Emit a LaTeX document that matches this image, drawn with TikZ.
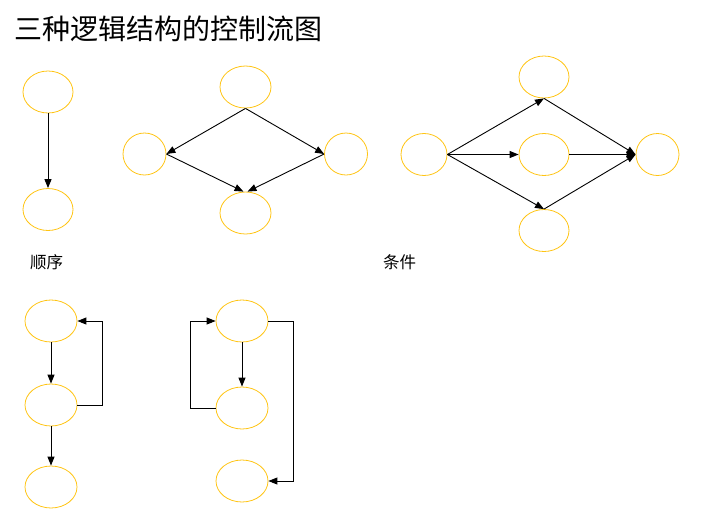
\documentclass[tikz,border=0pt]{standalone}
\usepackage{fontspec}
\newfontfamily\cjk{Noto Sans CJK SC}
\usetikzlibrary{arrows.meta,shapes.geometric}
\definecolor{nodeyellow}{RGB}{255,196,20}

\begin{document}
\begin{tikzpicture}[x=1pt,y=-1pt,line width=0.9pt,
  blob/.style={ellipse,draw=nodeyellow,line width=0.8pt,inner sep=0pt,minimum width=50pt,minimum height=42pt},
  go/.style={-{Triangle[length=9pt,width=7pt]}}]
\useasboundingbox (0,0) rectangle (723,515);
\node[anchor=west,font=\cjk\fontsize{28}{30}\selectfont] (title) at (11,29) {三种逻辑结构的控制流图};
% sequence
\node[blob] (s1) at (48,92) {};
\node[blob] (s2) at (48,209.5) {};
\draw[go](s1.south)--(s2.north);
\node[font=\cjk\fontsize{16.5}{18}\selectfont] (seq) at (46.5,262) {顺序};
% diamond
\node[blob,minimum width=51pt] (dt) at (245.5,87) {};
\node[blob,minimum width=43pt] (dl) at (144.5,154) {};
\node[blob,minimum width=43pt] (dr) at (346,154) {};
\node[blob,minimum width=51pt] (db) at (245.5,213) {};
\draw[go](dt.south)--(dl.east);
\draw[go](dt.south)--(dr.west);
\draw[go](dl.east)--([xshift=-2pt]db.north);
\draw[go](dr.west)--([xshift=2pt]db.north);
% condition
\node[blob,minimum width=46pt] (cl) at (424,154.5) {};
\node[blob] (ct) at (544,77) {};
\node[blob] (cm) at (544,154.5) {};
\node[blob] (cb) at (544,230.5) {};
\node[blob,minimum width=43pt] (cr) at (657.5,154.5) {};
\draw[go](cl.east)--(ct.south);
\draw[go](cl.east)--(cm.west);
\draw[go](cl.east)--(cb.north);
\draw[go](ct.south)--(cr.west);
\draw[go](cm.east)--(cr.west);
\draw[go](cb.north)--(cr.west);
\node[font=\cjk\fontsize{16.5}{18}\selectfont] (cond) at (399.5,262) {条件};
% loop 1
\node[blob,minimum width=52pt] (a1) at (51,321) {};
\node[blob,minimum width=52pt] (a2) at (51,405) {};
\node[blob,minimum width=52pt] (a3) at (51,487) {};
\draw[go](a1.south)--(a2.north);
\draw[go](a2.south)--(a3.north);
\draw[go](a2.east)--++(25,0)|-(a1.east);
% loop 2
\node[blob,minimum width=52pt] (b1) at (242,321) {};
\node[blob,minimum width=52pt] (b2) at (242,408) {};
\node[blob,minimum width=52pt] (b3) at (242,481) {};
\draw[go](b1.south)--(b2.north);
\draw[go](b2.west)--++(-25,0)|-(b1.west);
\draw[go](b1.east)--++(24.7,0)|-(b3.east);
\end{tikzpicture}
\end{document}
